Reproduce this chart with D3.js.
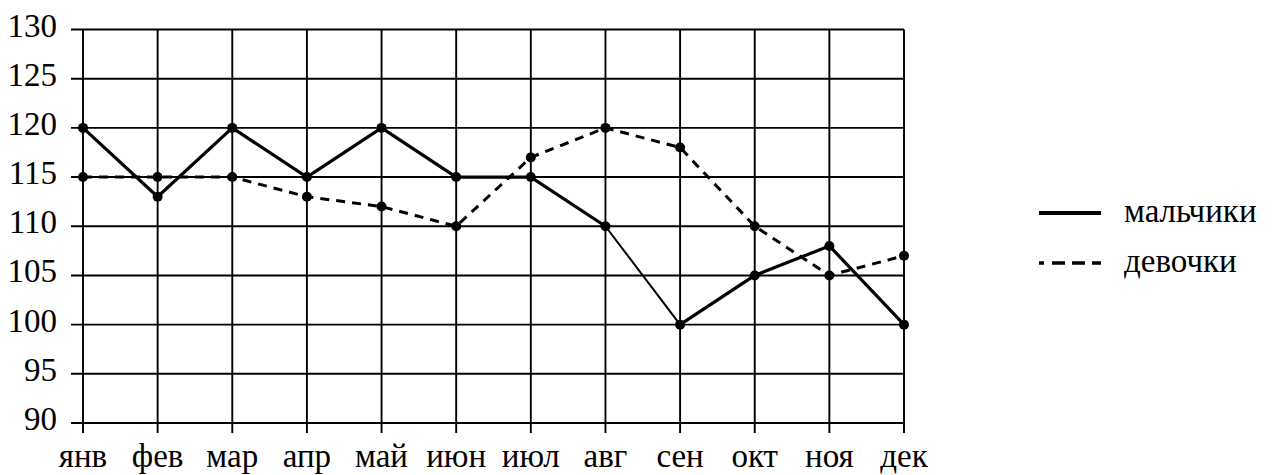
<!DOCTYPE html>
<html>
<head>
<meta charset="utf-8">
<script src="https://cdn.jsdelivr.net/npm/d3@7"></script>
</head>
<body style="margin:0; background:#fff">
<svg id="plot" width="1282" height="475"></svg>
<script>
// Monthly values for boys and girls
const months = ["янв", "фев", "мар", "апр", "май", "июн", "июл", "авг", "сен", "окт", "ноя", "дек"];
const boys   = [120, 113, 120, 115, 120, 115, 115, 110, 100, 105, 108, 100];
const girls  = [115, 115, 115, 113, 112, 110, 117, 120, 118, 110, 105, 107];
const yTicks = [90, 95, 100, 105, 110, 115, 120, 125, 130];
const seriesNames = ["мальчики", "девочки"];

const SERIF = '"Liberation Serif"';

const svg = d3.select("#plot");

const x = d3.scalePoint().domain(months).range([83, 904]);
const y = d3.scaleLinear().domain([90, 130]).range([423, 29.5]);

const grid = svg.append("g").attr("stroke", "#000").attr("stroke-width", 1.9);

// horizontal grid lines, extending left as ticks
grid.selectAll("line.h").data(yTicks).join("line")
  .attr("class", "h")
  .attr("x1", 71).attr("x2", x("дек"))
  .attr("y1", d => y(d)).attr("y2", d => y(d));

// vertical grid lines, extending below as ticks
grid.selectAll("line.v").data(months).join("line")
  .attr("class", "v")
  .attr("x1", d => x(d)).attr("x2", d => x(d))
  .attr("y1", y(130)).attr("y2", y(90) + 10);

// y labels
svg.append("g").selectAll("text").data(yTicks).join("text")
  .attr("x", 57).attr("y", d => y(d) + 7)
  .attr("font-size", 33)
  .style("font-family", SERIF, "important")
  .style("text-anchor", "end")
  .text(d => d);

// x labels
svg.append("g").selectAll("text").data(months).join("text")
  .attr("x", d => x(d)).attr("y", 467)
  .attr("font-size", 33)
  .style("font-family", SERIF, "important")
  .style("text-anchor", "middle")
  .text(d => d);

// girls: dashed line
const line = d3.line().x((d, i) => x(months[i])).y(d => y(d));
svg.append("path").datum(girls)
  .attr("d", line)
  .attr("fill", "none").attr("stroke", "#000")
  .attr("stroke-width", 3)
  .attr("stroke-dasharray", "9,7");
svg.append("g").selectAll("circle").data(girls).join("circle")
  .attr("cx", (d, i) => x(months[i])).attr("cy", d => y(d)).attr("r", 5)
  .attr("fill", "#000");

// boys: solid line, drawn segment by segment (aug–sep segment is thinner)
const boySegs = d3.pairs(boys.map((v, i) => ({ m: months[i], v })));
svg.append("g").selectAll("line").data(boySegs).join("line")
  .attr("x1", d => x(d[0].m)).attr("y1", d => y(d[0].v))
  .attr("x2", d => x(d[1].m)).attr("y2", d => y(d[1].v))
  .attr("stroke", "#000")
  .attr("stroke-width", d => d[0].m === "авг" ? 2 : 3.2)
  .attr("stroke-linecap", "round");
svg.append("g").selectAll("circle").data(boys).join("circle")
  .attr("cx", (d, i) => x(months[i])).attr("cy", d => y(d)).attr("r", 5)
  .attr("fill", "#000");

// legend
const legend = svg.append("g");
const legendRows = [
  { name: seriesNames[0], y: 213, dash: null, w: 4 },
  { name: seriesNames[1], y: 263, dash: "5,8,13,7,13,7,13", w: 3.6 }
];
legendRows.forEach(r => {
  legend.append("line")
    .attr("x1", 1039).attr("x2", 1101)
    .attr("y1", r.y).attr("y2", r.y)
    .attr("stroke", "#000").attr("stroke-width", r.w)
    .attr("stroke-dasharray", r.dash);
  legend.append("text")
    .attr("x", 1124).attr("y", r.y + 9)
    .attr("font-size", 33)
    .style("font-family", SERIF, "important")
    .text(r.name);
});
</script>
</body>
</html>
